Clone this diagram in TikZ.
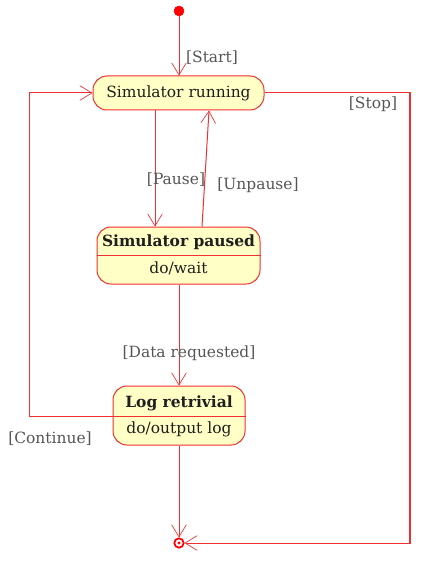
\documentclass[tikz,border=0pt]{standalone}
\usepackage{fontspec}
\setmainfont{DejaVu Serif}
\usetikzlibrary{arrows.meta}
\definecolor{lred}{HTML}{F03030}
\definecolor{sfill}{HTML}{FFFFC6}
\definecolor{lbl}{HTML}{555555}
\tikzset{
  state/.style={draw=lred, fill=sfill, rounded corners=10.5pt, line width=0.75pt, inner sep=0pt},
  txt/.style={font=\fontsize{11.6}{13}\selectfont, text=black!88, inner sep=0pt},
  btxt/.style={txt, font=\fontsize{11.6}{13}\selectfont\bfseries},
  lab/.style={font=\fontsize{11.6}{13}\selectfont, text=lbl, inner sep=0pt},
  tr/.style={draw=lred, line width=0.75pt, -{Straight Barb[length=9pt,width=11pt,line width=0.5pt]}},
  ln/.style={draw=lred, line width=0.75pt}
}
\begin{document}
\begin{tikzpicture}[x=0.75pt,y=-0.75pt]
\useasboundingbox (0,0) rectangle (421,563);
% initial
\node[circle, fill=red, draw=red, minimum size=7.5pt, inner sep=0pt] (init) at (179,11) {};
% running
\node[state, minimum width=128.25pt, minimum height=25.5pt] (run) at (178.5,93) {};
\node[txt] (runt) at (178.5,93) {Simulator running};
% paused
\node[state, minimum width=122.25pt, minimum height=42.75pt] (pau) at (178.5,255.5) {};
\draw[ln] (pau.west |- 0,255) coordinate (pl) -- (pau.east |- 0,255) coordinate (pr);
\node[btxt] (paut) at (178.5,242) {Simulator paused};
\node[txt] (pauw) at (178.5,268) {do/wait};
% log
\node[state, minimum width=99pt, minimum height=44.25pt] (log) at (179,415.5) {};
\draw[ln] (log.west |- 0,416) coordinate (ll) -- (log.east |- 0,416) coordinate (lr);
\node[btxt] (logt) at (179,403) {Log retrivial};
\node[txt] (logo) at (179,429) {do/output log};
% final
\node[circle, draw=red, line width=1.3pt, minimum size=7pt, inner sep=0pt] (fin) at (179,543) {};
\node[circle, fill=red, minimum size=2.6pt, inner sep=0pt] (finc) at (179,543) {};
% transitions
\draw[tr] (init) -- (run.north -| init);
\node[lab] (lstart) at (212,58) {[Start]};
\draw[tr] (run.south -| 155,0) -- (pau.north -| 155,0);
\node[lab] (lpause) at (176,180) {[Pause]};
\draw[tr] (pau.north -| 202,0) -- (run.south -| 209,0);
\node[lab] (lunp) at (258,185) {[Unpause]};
\draw[tr] (pau.south -| 179,0) -- (log.north -| 179,0);
\node[lab] (ldata) at (189,353) {[Data requested]};
\coordinate (c1) at (29,416);
\coordinate (c2) at (29,93);
\draw[tr] (ll) -- (c1) -- (c2) -- (run.west);
\node[lab] (lcont) at (50,439) {[Continue]};
\coordinate (s1) at (410,93);
\coordinate (s2) at (410,543);
\draw[tr] (run.east) -- (s1) -- (s2) -- (fin.east);
\draw[ln, line width=1.3pt] (s1) -- (s2);
\node[lab] (lstop) at (373,104) {[Stop]};
\draw[tr] (log.south -| 179,0) -- (fin.north);
\end{tikzpicture}
\end{document}
